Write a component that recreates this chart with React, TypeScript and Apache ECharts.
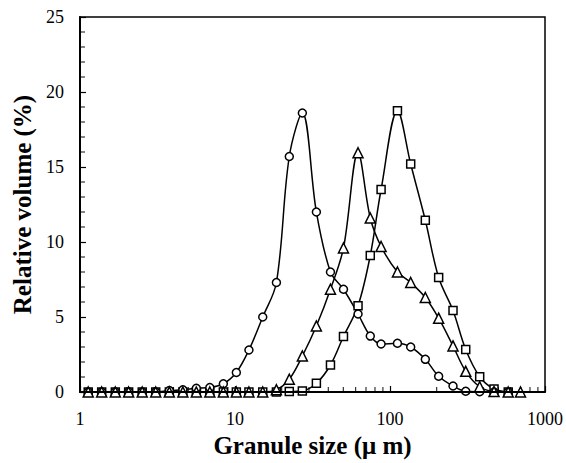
import React, { useEffect, useRef } from "react";
import * as echarts from "echarts";

const sizes = [1.13, 1.38, 1.69, 2.06, 2.52, 3.08, 3.77, 4.61, 5.63, 6.88, 8.41, 10.2, 12.3, 15.1, 18.5, 22.4, 27.2, 33.5, 41.3, 50.1, 62.2, 74.6, 87.6, 111.7, 136, 169, 206, 255, 308, 379, 469, 579, 695];
const circleVals = [0, 0, 0, 0, 0, 0, 0.1, 0.15, 0.25, 0.3, 0.55, 1.3, 2.8, 5.0, 7.3, 15.7, 18.6, 12.0, 8.0, 6.85, 5.2, 3.73, 3.2, 3.25, 3.0, 2.18, 1.05, 0.4, 0.05, 0.02, 0, 0];
const triangleVals = [0, 0, 0, 0, 0, 0, 0, 0, 0, 0, 0, 0, 0, 0, 0.15, 0.85, 2.4, 4.4, 6.85, 9.6, 15.95, 11.6, 9.7, 8.0, 7.3, 6.3, 4.92, 3.07, 1.38, 0.35, 0.03, 0, 0];
const squareVals = [0, 0, 0, 0, 0, 0, 0, 0, 0, 0, 0, 0, 0, 0, 0, 0.03, 0.07, 0.58, 1.8, 3.7, 5.75, 9.1, 13.5, 18.75, 15.2, 11.45, 7.63, 5.43, 2.83, 1.02, 0.2, 0];
const xMinorTicks = [2, 3, 4, 5, 6, 7, 8, 9, 20, 30, 40, 50, 60, 70, 80, 90, 200, 300, 400, 500, 600, 700, 800, 900];
const yMinorTicks = [1, 2, 3, 4, 6, 7, 8, 9, 11, 12, 13, 14, 16, 17, 18, 19, 21, 22, 23, 24];
const xTickLabels = [1, 10, 100, 1000];

const FONT = "'Liberation Serif', 'Times New Roman', 'DejaVu Serif', serif";

function pairs(vals: number[]) {
  return vals.map((v, i) => [sizes[i], v]);
}

export default function App() {
  const ref = useRef<HTMLDivElement>(null);
  useEffect(() => {
    if (!ref.current) return;
    const chart = echarts.init(ref.current, null, { renderer: "svg" });
    const lineSeries = (name: string, vals: number[], symbol: string, size: number) => ({
      name,
      type: "line",
      data: pairs(vals),
      smooth: 0.35,
      symbol,
      symbolSize: size,
      showAllSymbol: true,
      lineStyle: { color: "#000", width: 1.5 },
      itemStyle: { color: "#fff", borderColor: "#000", borderWidth: 1.5 },
      clip: false,
      z: 3,
    });
    chart.setOption({
      animation: false,
      backgroundColor: "#fff",
      textStyle: { fontFamily: FONT },
      grid: {
        left: 80,
        right: 21,
        top: 17,
        bottom: 71,
        show: true,
        borderColor: "#000",
        borderWidth: 1.5,
      },
      xAxis: {
        type: "log",
        logBase: 10,
        min: 1,
        max: 1000,
        name: "Granule size (\u03bc m)",
        nameLocation: "middle",
        nameGap: 38,
        nameTextStyle: { fontFamily: FONT, fontWeight: "bold", fontSize: 25, color: "#000" },
        axisLine: { lineStyle: { color: "#000", width: 2 } },
        axisTick: { inside: true, length: 6, lineStyle: { color: "#000", width: 1.2 } },
        splitLine: { show: false },
        axisLabel: {
          fontFamily: FONT,
          fontSize: 18,
          color: "#000",
          margin: 18,
          formatter: (v: number) => {
            const r = Math.round(v);
            return xTickLabels.includes(r) ? String(r) : "";
          },
        },
        z: 5,
      },
      yAxis: {
        type: "value",
        min: 0,
        max: 25,
        interval: 5,
        name: "Relative volume (%)",
        nameLocation: "middle",
        nameGap: 40,
        nameTextStyle: { fontFamily: FONT, fontWeight: "bold", fontSize: 25, color: "#000" },
        axisLine: { show: true, lineStyle: { color: "#000", width: 2 } },
        axisTick: { show: true, inside: true, length: 6, lineStyle: { color: "#000", width: 1.2 } },
        splitLine: { show: false },
        axisLabel: { fontFamily: FONT, fontSize: 18, color: "#000", margin: 16 },
        z: 5,
      },
      series: [
        {
          name: "xminor",
          type: "scatter",
          data: xMinorTicks.map((v) => [v, 0]),
          symbol: "rect",
          symbolSize: [1.2, 5],
          symbolOffset: [0, -2.5],
          itemStyle: { color: "#000" },
          silent: true,
          clip: false,
          z: 1,
        },
        {
          name: "yminor",
          type: "scatter",
          data: yMinorTicks.map((v) => [1, v]),
          symbol: "rect",
          symbolSize: [5, 1.2],
          symbolOffset: [2.5, 0],
          itemStyle: { color: "#000" },
          silent: true,
          clip: false,
          z: 1,
        },
        lineSeries("squares", squareVals, "rect", 8),
        lineSeries("circles", circleVals, "circle", 8),
        lineSeries("triangles", triangleVals, "triangle", 10),
      ],
    });
    return () => chart.dispose();
  }, []);
  return (
    <div
      ref={ref}
      style={{ position: "absolute", left: 0, top: 0, width: 566, height: 463, background: "#fff" }}
    />
  );
}
